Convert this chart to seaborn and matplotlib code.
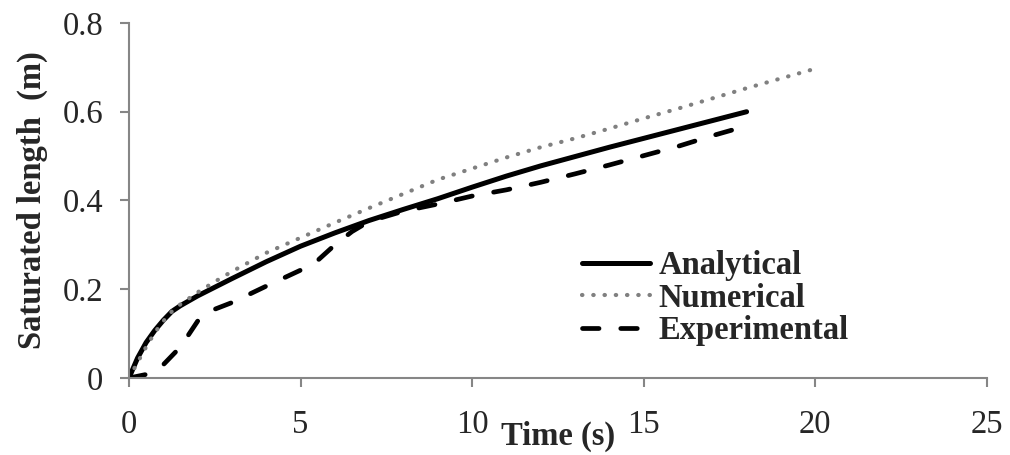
import numpy as np
import pandas as pd
import matplotlib
matplotlib.use("Agg")
import matplotlib.pyplot as plt
import seaborn as sns

# values
t_analytical = [0, 0.25, 0.5, 0.75, 1, 1.25, 1.5, 2, 3, 4, 5, 6, 7, 8, 9, 10, 11, 12,
                13, 14, 15, 16, 17, 18]
analytical = [0, 0.045, 0.08, 0.107, 0.13, 0.15, 0.163, 0.185, 0.224, 0.262, 0.297,
              0.327, 0.355, 0.38, 0.404, 0.43, 0.455, 0.478, 0.499, 0.52, 0.54, 0.56,
              0.58, 0.60]

t_numerical = [0, 0.25, 0.5, 0.75, 1, 1.25, 1.5, 2, 2.5, 3, 4, 5, 6, 7, 8, 9, 10, 11,
               12, 13, 14, 15, 16, 17, 18, 19, 20]
numerical = [0, 0.035, 0.07, 0.102, 0.128, 0.15, 0.166, 0.193, 0.217, 0.24, 0.282,
             0.316, 0.35, 0.383, 0.415, 0.447, 0.472, 0.497, 0.52, 0.54, 0.562, 0.585,
             0.607, 0.63, 0.653, 0.675, 0.697]

t_experimental = [0, 0.5, 1, 1.5, 2, 2.25, 2.5, 3, 4, 5, 5.5, 6, 6.5, 7, 8, 9, 10, 11,
                  12, 13, 14, 15, 16, 17, 18]
experimental = [0, 0.008, 0.03, 0.07, 0.128, 0.145, 0.155, 0.17, 0.207, 0.243, 0.265,
                0.3, 0.33, 0.353, 0.376, 0.392, 0.41, 0.424, 0.441, 0.46, 0.48, 0.501,
                0.522, 0.546, 0.568]

x_ticks = [0, 5, 10, 15, 20, 25]
y_ticks = [0, 0.2, 0.4, 0.6, 0.8]
y_tick_labels = ["0", "0.2", "0.4", "0.6", "0.8"]

sns.set_style("white")
plt.rcParams['font.family'] = ['Liberation Serif', 'DejaVu Serif']
plt.rcParams['font.size'] = 23.5

fig, ax = plt.subplots(figsize=(10.1, 4.55), dpi=100)
fig.subplots_adjust(left=0.1277, right=0.977, top=0.9495, bottom=0.1692)

df_a = pd.DataFrame({'t': t_analytical, 'L': analytical})
df_n = pd.DataFrame({'t': t_numerical, 'L': numerical})
df_e = pd.DataFrame({'t': t_experimental, 'L': experimental})

sns.lineplot(data=df_a, x='t', y='L', ax=ax, color='black', lw=3.6,
             label='Analytical', solid_capstyle='round')
sns.lineplot(data=df_n, x='t', y='L', ax=ax, color='#808080', lw=3.0,
             linestyle=(0, (0.1, 2.6)), dash_capstyle='round', label='Numerical')
sns.lineplot(data=df_e, x='t', y='L', ax=ax, color='black', lw=3.4,
             linestyle=(0, (3.5, 4.6)), dash_capstyle='round', label='Experimental')

ax.set_xlim(0, 25)
ax.set_ylim(0, 0.8)
ax.set_xticks(x_ticks)
ax.set_yticks(y_ticks)
ax.set_yticklabels(y_tick_labels)

for s in ['top', 'right']:
    ax.spines[s].set_visible(False)
for s in ['left', 'bottom']:
    ax.spines[s].set_color('#868686')
    ax.spines[s].set_linewidth(1.5)
ax.tick_params(axis='both', direction='out', length=6.5, width=1.5, color='#868686',
               labelsize=23.5, left=True, bottom=True)
ax.tick_params(axis='x', pad=16)
ax.tick_params(axis='y', pad=12)

ax.set_xlabel('Time (s)', fontweight='bold', fontsize=23.5)
ax.xaxis.set_label_coords(0.5, -0.12)
ax.set_ylabel('Saturated length  (m)', fontweight='bold', fontsize=23.5)
ax.yaxis.set_label_coords(-0.094, 0.5)

leg = ax.legend(loc='upper left', bbox_to_anchor=(0.528, 0.36), frameon=False,
                borderpad=0, borderaxespad=0, handlelength=2.1, handletextpad=0.25,
                labelspacing=0.05, prop={'weight': 'bold', 'size': 23.5})

fig.savefig('out.png', dpi=100)
